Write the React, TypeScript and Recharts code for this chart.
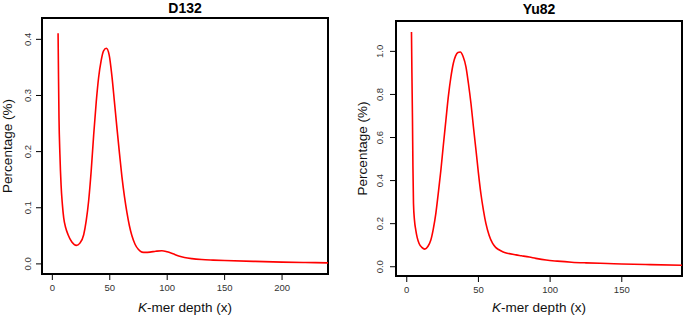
import React from "react";
import { LineChart, Line, XAxis, YAxis, ReferenceArea } from "recharts";

const d132Depth = [5, 5.4, 5.8, 6.6, 7.6, 8.7, 9.9, 11.7, 13.7, 17, 20.9, 24, 27.3, 29.5, 31.6, 33.8, 36, 38.2, 40.3, 42.5, 44.5, 47, 49.5, 51.9, 54, 56.3, 58.5, 60.6, 62.8, 65, 67.1, 69.3, 72, 75, 78, 81, 85, 90, 95.4, 100, 105, 110, 115, 121.5, 130, 140, 150, 175, 200, 220, 240];
const d132Pct = [0.411, 0.33, 0.26, 0.195, 0.141, 0.107, 0.082, 0.064, 0.052, 0.039, 0.033, 0.037, 0.052, 0.077, 0.112, 0.165, 0.23, 0.288, 0.332, 0.362, 0.379, 0.384, 0.372, 0.334, 0.29, 0.241, 0.196, 0.155, 0.12, 0.091, 0.068, 0.05, 0.035, 0.0255, 0.021, 0.0205, 0.021, 0.0225, 0.0235, 0.0215, 0.018, 0.0142, 0.0115, 0.0094, 0.0078, 0.0068, 0.006, 0.0045, 0.0032, 0.0025, 0.0019];
const d132XTicks = [0, 50, 100, 150, 200];
const d132YTicks = [0, 0.1, 0.2, 0.3, 0.4];

const yu82Depth = [3.3, 3.6, 4.0, 4.3, 4.7, 5.4, 6.3, 7.3, 8.6, 10.5, 12.6, 14.7, 16.8, 18.5, 20.3, 22, 23.8, 25.5, 27.3, 29, 30.8, 32.5, 34, 35.7, 37.3, 39.3, 41.3, 43, 44.8, 46.5, 48.3, 50, 51.7, 53.5, 55.2, 57.5, 59.9, 62, 64, 66.9, 70, 76.2, 80, 85.5, 90, 97.2, 105, 115, 125, 140, 150, 170, 192];
const yu82Pct = [1.09, 0.9, 0.68, 0.47, 0.294, 0.215, 0.17, 0.135, 0.108, 0.09, 0.082, 0.094, 0.124, 0.175, 0.248, 0.342, 0.448, 0.563, 0.68, 0.79, 0.881, 0.945, 0.978, 0.995, 0.997, 0.976, 0.928, 0.852, 0.758, 0.65, 0.541, 0.435, 0.34, 0.262, 0.201, 0.145, 0.108, 0.09, 0.08, 0.07, 0.063, 0.055, 0.051, 0.045, 0.039, 0.031, 0.026, 0.021, 0.018, 0.015, 0.013, 0.01, 0.007];
const yu82XTicks = [0, 50, 100, 150];
const yu82YTicks = [0, 0.2, 0.4, 0.6, 0.8, 1.0];

const FONT = "'Liberation Sans', Arial, Helvetica, sans-serif";

type PanelProps = {
  title: string;
  depth: number[];
  pct: number[];
  xTicks: number[];
  yTicks: number[];
  xDomain: [number, number];
  yDomain: [number, number];
  left: number;
  width: number;
  yAxisWidth: number;
  marginTop: number;
  marginRight: number;
  xAxisHeight: number;
  yLabelX: number;
  yTitleX: number;
  titleY: number;
};

function Panel(p: PanelProps) {
  const data = p.depth.map((x, i) => ({ x, y: p.pct[i] }));
  const plotLeft = p.yAxisWidth;
  const plotRight = p.width - p.marginRight;
  const cx = (plotLeft + plotRight) / 2;
  const plotTop = p.marginTop;
  const plotBottom = 317 - p.xAxisHeight;
  const cy = (plotTop + plotBottom) / 2;
  const YTick = (props: any) => {
    const { y, payload } = props;
    return (
      <text
        x={p.yLabelX}
        y={y}
        transform={`rotate(-90 ${p.yLabelX} ${y})`}
        textAnchor="middle"
        fontSize={9.5}
        fill="#333"
        fontFamily={FONT}
      >
        {Number(payload.value).toFixed(1)}
      </text>
    );
  };
  return (
    <div style={{ position: "absolute", left: p.left, top: 0, width: p.width, height: 317 }}>
      <LineChart
        width={p.width}
        height={317}
        data={data}
        margin={{ top: p.marginTop, right: p.marginRight, left: 0, bottom: 0 }}
      >
        <XAxis
          dataKey="x"
          type="number"
          domain={p.xDomain}
          ticks={p.xTicks}
          interval={0}
          allowDataOverflow
          axisLine={false}
          tickLine={{ stroke: "#000", strokeWidth: 1 }}
          tickSize={6}
          tickMargin={4}
          height={p.xAxisHeight}
          tick={{ fontSize: 9.5, fill: "#333", fontFamily: FONT }}
        />
        <YAxis
          type="number"
          domain={p.yDomain}
          ticks={p.yTicks}
          interval={0}
          allowDataOverflow
          axisLine={false}
          tickLine={{ stroke: "#000", strokeWidth: 1 }}
          tickSize={6}
          width={p.yAxisWidth}
          tick={YTick}
        />
        <ReferenceArea
          x1={p.xDomain[0]}
          x2={p.xDomain[1]}
          y1={p.yDomain[0]}
          y2={p.yDomain[1]}
          fill="none"
          fillOpacity={0}
          stroke="#000"
          strokeWidth={2}
          ifOverflow="visible"
        />
        <Line
          type="monotone"
          dataKey="y"
          stroke="#ff0000"
          strokeWidth={1.6}
          dot={false}
          isAnimationActive={false}
        />
      </LineChart>
      <svg
        width={p.width}
        height={317}
        style={{ position: "absolute", left: 0, top: 0, pointerEvents: "none" }}
      >
        <text x={cx} y={p.titleY} textAnchor="middle" fontSize={14} fontWeight="bold" fontFamily={FONT} fill="#000">
          {p.title}
        </text>
        <text x={cx} y={312} textAnchor="middle" fontSize={13.5} fontFamily={FONT} fill="#111">
          <tspan fontStyle="italic">K</tspan>-mer depth (x)
        </text>
        <text
          x={p.yTitleX}
          y={cy}
          transform={`rotate(-90 ${p.yTitleX} ${cy})`}
          textAnchor="middle"
          fontSize={13.5}
          fontFamily={FONT}
          fill="#111"
        >
          Percentage (%)
        </text>
      </svg>
    </div>
  );
}

export default function App() {
  return (
    <div style={{ position: "absolute", left: 0, top: 0, width: 685, height: 317, background: "#fff" }}>
      <Panel
        title="D132"
        depth={d132Depth}
        pct={d132Pct}
        xTicks={d132XTicks}
        yTicks={d132YTicks}
        xDomain={[-9, 240]}
        yDomain={[-0.018, 0.438]}
        left={0}
        width={342}
        yAxisWidth={42}
        marginTop={18}
        marginRight={14}
        xAxisHeight={43}
        yLabelX={31.5}
        yTitleX={12}
        titleY={12.5}
      />
      <Panel
        title="Yu82"
        depth={yu82Depth}
        pct={yu82Pct}
        xTicks={yu82XTicks}
        yTicks={yu82YTicks}
        xDomain={[-7.5, 192]}
        yDomain={[-0.043, 1.141]}
        left={342}
        width={343}
        yAxisWidth={54}
        marginTop={21}
        marginRight={3}
        xAxisHeight={41}
        yLabelX={41.5}
        yTitleX={25}
        titleY={13.5}
      />
    </div>
  );
}
